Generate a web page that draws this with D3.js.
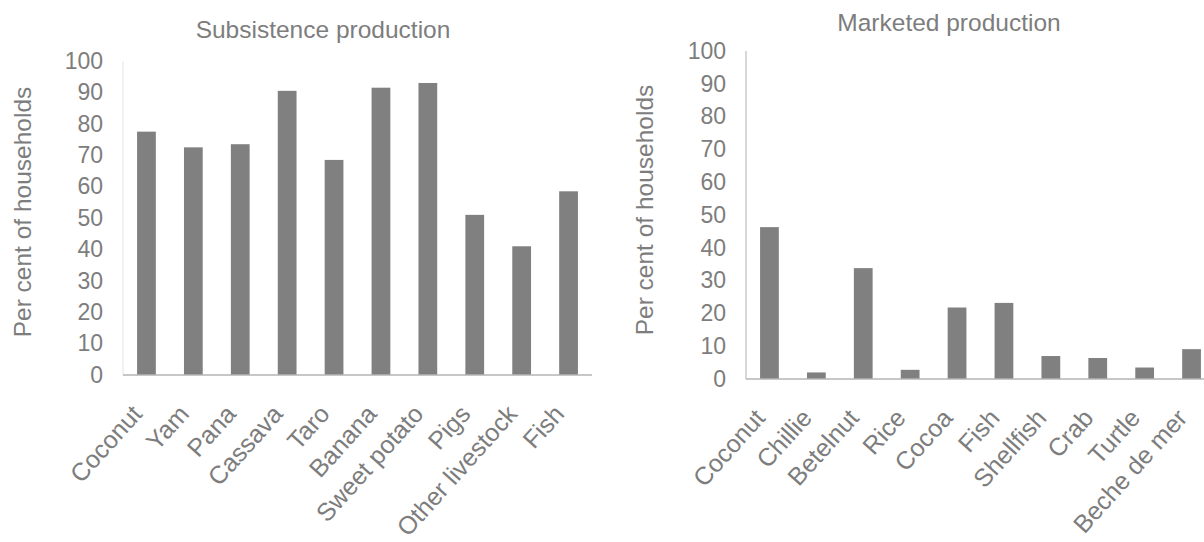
<!DOCTYPE html>
<html>
<head>
<meta charset="utf-8">
<script src="https://cdn.jsdelivr.net/npm/d3@7"></script>
<style>
  body { margin: 0; background: #fff; }
  text { font-family: "Liberation Sans", Arial, sans-serif; fill: #7d7d7d; }
</style>
</head>
<body>
<div id="chart"></div>
<script>
// Data
let subsistenceCategories = ["Coconut", "Yam", "Pana", "Cassava", "Taro", "Banana", "Sweet potato", "Pigs", "Other livestock", "Fish"];
let subsistenceValues = [77.5, 72.5, 73.5, 90.5, 68.5, 91.5, 93, 51, 41, 58.5];

let marketedCategories = ["Coconut", "Chillie", "Betelnut", "Rice", "Cocoa", "Fish", "Shellfish", "Crab", "Turtle", "Beche de mer"];
let marketedValues = [46.3, 2, 33.8, 2.8, 21.8, 23.2, 7, 6.4, 3.5, 9.1];

let yTicks = [0, 10, 20, 30, 40, 50, 60, 70, 80, 90, 100];

let svgWidth = 1204;
let svgHeight = 542;

let svg = d3.select("#chart")
  .append("svg")
  .attr("width", svgWidth)
  .attr("height", svgHeight);

// draw one panel
function drawPanel(opts) {
  let x = d3.scaleBand()
    .domain(opts.categories)
    .range([opts.left, opts.right])
    .paddingInner(0.6)
    .paddingOuter(0.3);

  let y = d3.scaleLinear()
    .domain([0, 100])
    .range([opts.bottom, opts.top]);

  let g = svg.append("g");

  // y axis line
  g.append("line")
    .attr("x1", opts.left).attr("x2", opts.left)
    .attr("y1", y(0)).attr("y2", y(100))
    .attr("stroke", opts.yAxisColor)
    .attr("stroke-width", 1);

  // tick labels
  let yAxis = d3.axisLeft(y)
    .tickValues(yTicks)
    .tickSize(0)
    .tickPadding(0);

  let yg = g.append("g")
    .attr("transform", `translate(${opts.tickX}, 0)`)
    .call(yAxis);
  yg.select(".domain").remove();
  yg.selectAll("text")
    .attr("font-size", "23px")
    .attr("fill", "#7d7d7d")
    .attr("font-family", "Liberation Sans, Arial, sans-serif");

  // bars
  g.selectAll("rect")
    .data(opts.values)
    .enter()
    .append("rect")
    .attr("x", (d, i) => x(opts.categories[i]))
    .attr("y", d => y(d))
    .attr("width", x.bandwidth())
    .attr("height", d => y(0) - y(d))
    .attr("fill", "#808080");

  // baseline
  g.append("line")
    .attr("x1", opts.left).attr("x2", opts.right)
    .attr("y1", y(0)).attr("y2", y(0))
    .attr("stroke", "#b5b5b5")
    .attr("stroke-width", 1.5);

  // category labels, rotated
  g.selectAll(".cat")
    .data(opts.categories)
    .enter()
    .append("text")
    .attr("class", "cat")
    .attr("text-anchor", "end")
    .attr("font-size", "25px")
    .attr("transform", d => `translate(${x(d) + x.bandwidth() / 2 - 3}, ${y(0) + 40}) rotate(-48)`)
    .text(d => d);

  // title
  g.append("text")
    .attr("x", opts.titleX)
    .attr("y", opts.titleY)
    .attr("text-anchor", "middle")
    .attr("font-size", "24.5px")
    .text(opts.title);

  // y axis title
  g.append("text")
    .attr("transform", `translate(${opts.yTitleX}, ${opts.yTitleY}) rotate(-90)`)
    .attr("text-anchor", "middle")
    .attr("font-size", "24.5px")
    .text("Per cent of households");
}

drawPanel({
  categories: subsistenceCategories,
  values: subsistenceValues,
  left: 123, right: 592,
  top: 61, bottom: 375,
  tickX: 103,
  yAxisColor: "#e4e4e4",
  title: "Subsistence production",
  titleX: 323, titleY: 38,
  yTitleX: 31, yTitleY: 212
});

drawPanel({
  categories: marketedCategories,
  values: marketedValues,
  left: 746, right: 1215,
  top: 51, bottom: 379,
  tickX: 726,
  yAxisColor: "#b0b0b0",
  title: "Marketed production",
  titleX: 949, titleY: 31,
  yTitleX: 653, yTitleY: 210
});
</script>
</body>
</html>
